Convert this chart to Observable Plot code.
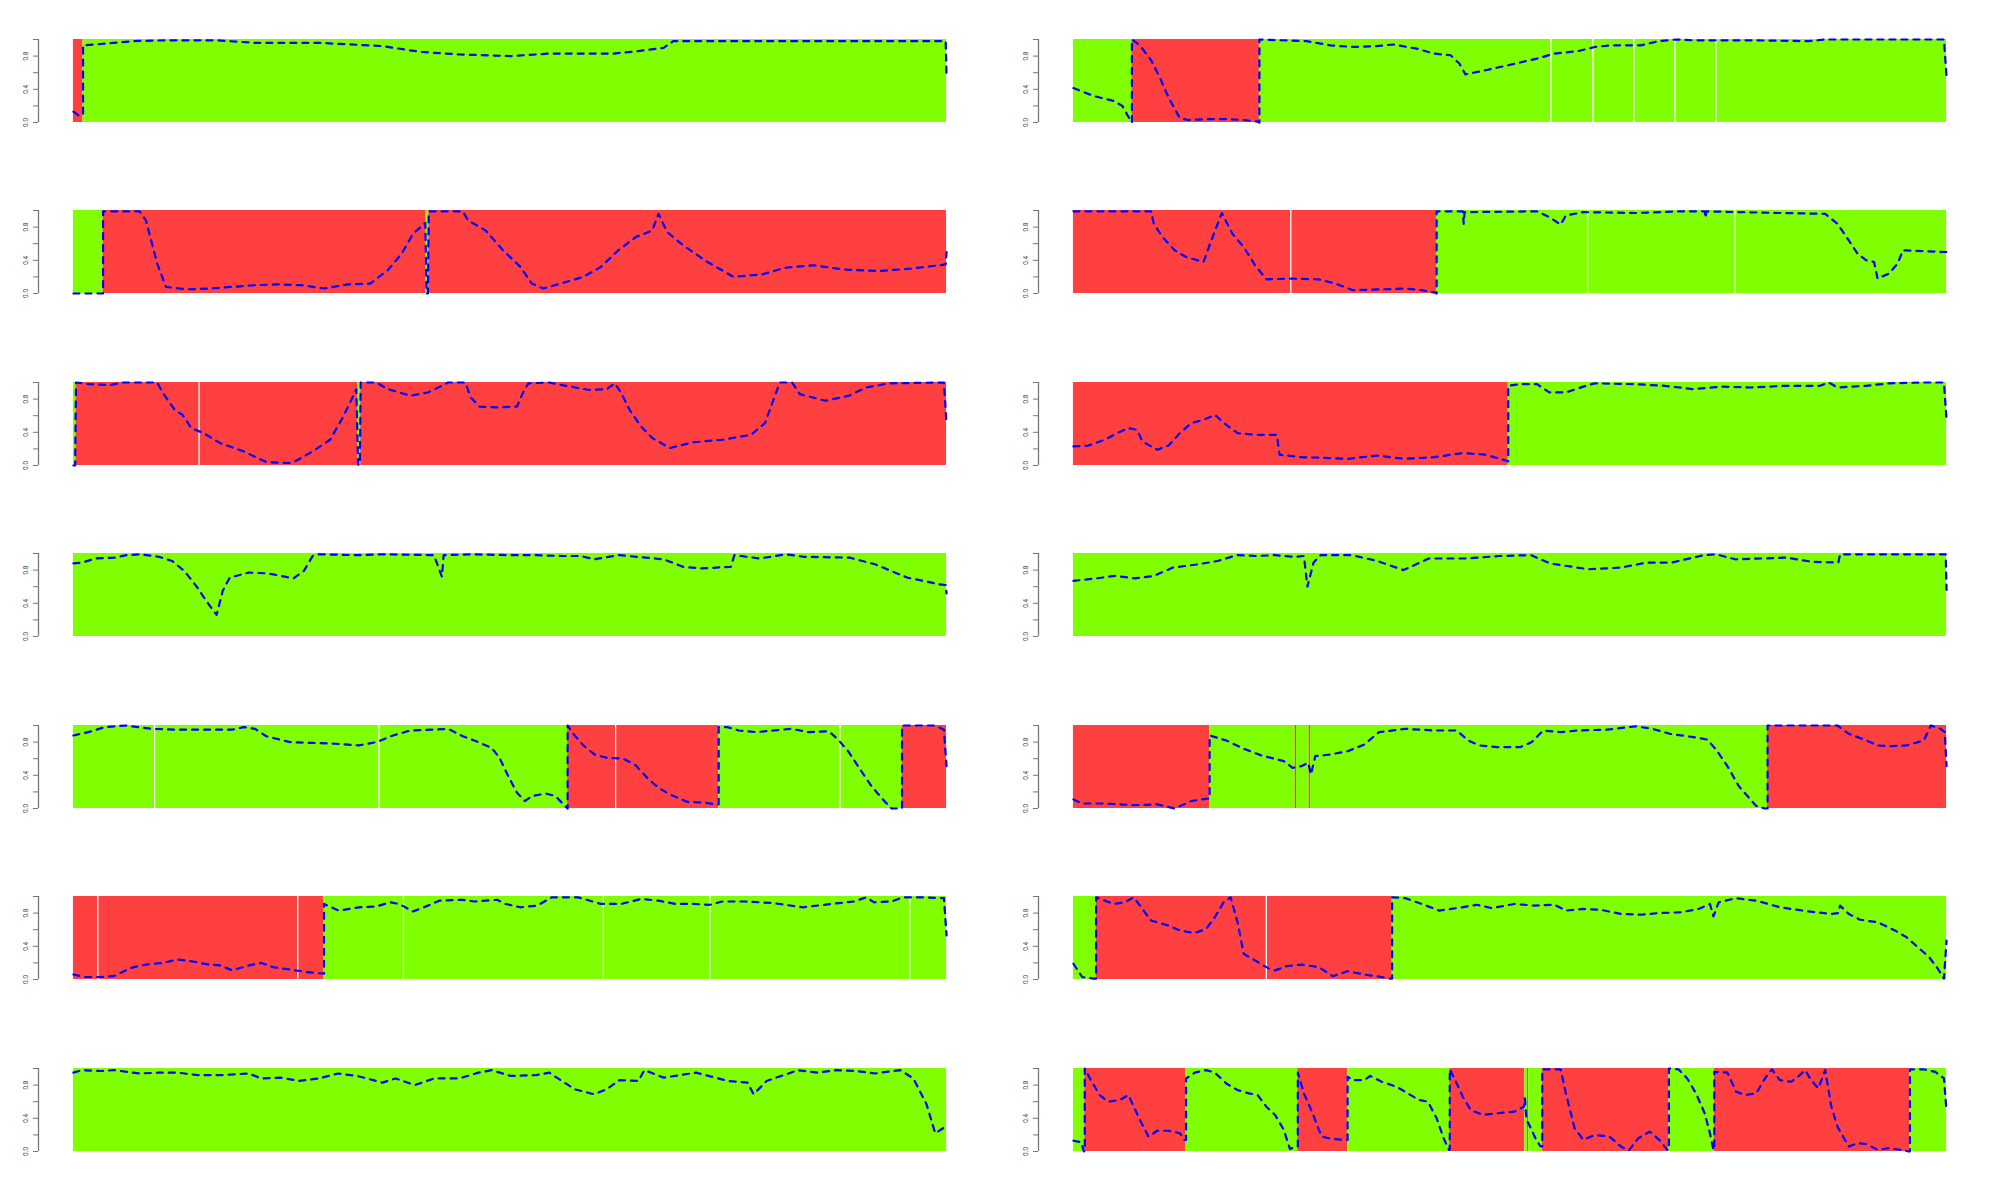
<!DOCTYPE html>
<html><head><meta charset="utf-8">
<script src="https://cdn.jsdelivr.net/npm/d3@7"></script>
<script src="https://cdn.jsdelivr.net/npm/@observablehq/plot@0.6"></script>
<style>
html,body{margin:0;padding:0;background:#fff;}
#chart{position:relative;width:2000px;height:1200px;overflow:hidden;background:#fff;}
</style></head><body><div id="chart"></div>
<script>
// y-axis ticks and labels
const yTicks = [0, 0.2, 0.4, 0.6, 0.8, 1.0];
const yLabels = [0, 0.4, 0.8];

// segments: [start, end, state]  (x in % of sequence length); R = red state, G = green state
const segs1 = [[0,1.1,"R"],[1.1,100,"G"]];
const line1 = [[0,0.13],[0.54,0.09],[1.1,0.09],[1.1,0.93],[2.6,0.94],[6.8,0.98],[10.6,0.99],[16.4,0.99],[20.8,0.96],[28.1,0.96],[35.4,0.92],[39.8,0.85],[44.2,0.82],[50.1,0.80],[54.5,0.83],[61.8,0.83],[64.7,0.86],[67.6,0.9],[68.7,0.98],[99.9,0.98],[100,0.55]];

const segs2 = [[0,6.7,"G"],[6.7,21.3,"R"],[21.3,54.7,"G"],[54.7,59.5,"G"],[59.5,64.2,"G"],[64.2,68.9,"G"],[68.9,73.6,"G"],[73.6,100,"G"]];
const line2 = [[0,0.415],[2.3,0.32],[4.6,0.26],[5.6,0.2],[6.4,0.05],[6.7,0.0],[6.7,1.0],[7.6,0.93],[8.9,0.75],[9.9,0.54],[10.9,0.3],[12.2,0.05],[13.2,0.03],[15.5,0.04],[17.5,0.04],[19.5,0.03],[21.1,0.01],[21.3,0.0],[21.3,1.0],[26.7,0.98],[29.4,0.93],[32.0,0.91],[34.7,0.92],[36.6,0.94],[39.3,0.89],[41.3,0.83],[43.2,0.81],[44.2,0.71],[44.9,0.58],[47.2,0.63],[49.8,0.69],[53.1,0.77],[55.1,0.83],[57.8,0.86],[59.7,0.91],[61.7,0.93],[65.0,0.93],[67.0,0.98],[69.0,1.0],[71.0,0.99],[77.6,0.99],[84.2,0.98],[86.1,1.0],[99.7,1.0],[100,0.55]];

const segs3 = [[0,3.4,"G"],[3.4,40.4,"R"],[40.4,40.7,"G"],[40.7,100,"R"]];
const line3 = [[0,0],[3.4,0],[3.4,0.99],[7.6,0.99],[8.3,0.88],[8.9,0.64],[9.6,0.36],[10.6,0.08],[12.9,0.05],[15.5,0.06],[18.2,0.08],[20.8,0.10],[23.4,0.11],[26.1,0.10],[28.7,0.06],[31.4,0.11],[34.0,0.12],[36.0,0.28],[37.6,0.48],[38.9,0.72],[40.3,0.85],[40.45,0.0],[40.6,0.0],[40.7,0.99],[44.6,0.99],[45.2,0.88],[47.2,0.76],[49.2,0.52],[51.2,0.32],[52.5,0.12],[53.8,0.06],[55.8,0.12],[58.4,0.20],[60.4,0.32],[62.4,0.52],[64.4,0.68],[66.3,0.76],[67.0,0.96],[68.0,0.74],[69.6,0.60],[72.3,0.40],[75.6,0.20],[78.9,0.23],[81.5,0.31],[84.8,0.34],[88.1,0.29],[92.1,0.27],[96.0,0.30],[99.9,0.35],[100,0.50]];

const segs4 = [[0,24.9,"R"],[24.9,41.6,"R"],[41.6,58.9,"G"],[58.9,75.8,"G"],[75.8,100,"G"]];
const line4 = [[0,0.99],[8.9,0.99],[9.2,0.84],[10.2,0.68],[11.6,0.52],[12.9,0.44],[14.9,0.38],[15.8,0.64],[17.0,0.97],[18.2,0.72],[19.5,0.56],[20.8,0.34],[22.1,0.17],[24.8,0.18],[28.1,0.17],[30.0,0.12],[32.0,0.04],[35.3,0.05],[38.0,0.06],[39.9,0.04],[41.4,0.01],[41.6,0.0],[41.6,0.99],[44.6,0.99],[44.7,0.84],[44.8,0.98],[53.1,0.99],[54.5,0.92],[55.8,0.83],[56.4,0.94],[58.4,0.98],[64.4,0.97],[69.6,0.99],[72.3,0.99],[72.4,0.91],[72.5,0.99],[76.2,0.98],[80.9,0.97],[86.1,0.96],[87.5,0.84],[88.8,0.64],[89.8,0.48],[90.8,0.40],[91.7,0.38],[92.1,0.18],[93.4,0.24],[94.4,0.36],[95.0,0.52],[97.4,0.51],[99.9,0.50],[100,0.50]];

const segs5 = [[0,0.3,"G"],[0.3,14.4,"R"],[14.4,32.6,"R"],[32.6,32.9,"G"],[32.9,100,"R"]];
const line5 = [[0,0],[0.2,0],[0.3,1.0],[1.7,0.98],[4.3,0.97],[5.6,1.0],[9.6,1.0],[10.2,0.88],[11.6,0.67],[12.5,0.61],[13.5,0.45],[14.9,0.39],[16.8,0.27],[19.5,0.17],[22.1,0.04],[24.8,0.03],[25.4,0.05],[27.4,0.17],[29.4,0.31],[30.7,0.55],[31.7,0.76],[32.4,0.92],[32.6,0.01],[32.8,0.01],[32.9,1.0],[34.7,1.0],[36.0,0.92],[38.6,0.84],[40.6,0.88],[42.2,0.96],[42.9,1.0],[44.9,1.0],[45.5,0.82],[46.5,0.71],[48.5,0.70],[50.8,0.71],[51.5,0.88],[52.1,0.99],[54.5,1.0],[56.4,0.96],[59.1,0.91],[61.1,0.92],[62.0,0.99],[62.7,0.88],[63.7,0.67],[65.0,0.47],[66.3,0.33],[68.3,0.21],[71.0,0.28],[74.3,0.31],[77.6,0.37],[79.2,0.51],[80.2,0.80],[80.9,1.0],[82.3,1.0],[83.2,0.86],[86.1,0.78],[88.8,0.84],[90.8,0.94],[93.4,0.99],[99.7,1.0],[100,0.5]];

const segs6 = [[0,49.8,"R"],[49.8,100,"G"]];
const line6 = [[0,0.23],[1.7,0.24],[3.6,0.31],[5.0,0.39],[6.3,0.45],[7.3,0.43],[7.9,0.29],[9.6,0.19],[10.9,0.24],[12.2,0.39],[13.5,0.51],[14.9,0.55],[16.2,0.61],[17.5,0.49],[18.8,0.39],[20.8,0.37],[23.3,0.37],[23.6,0.13],[26.1,0.10],[29.4,0.09],[31.4,0.08],[34.7,0.12],[38.0,0.08],[41.3,0.10],[44.6,0.15],[47.2,0.13],[49.5,0.06],[49.8,0.05],[49.8,0.96],[51.2,0.98],[53.1,0.98],[54.5,0.88],[56.4,0.88],[58.4,0.95],[59.7,0.99],[64.4,0.98],[67.7,0.96],[71.0,0.92],[74.3,0.95],[77.6,0.94],[81.5,0.96],[85.5,0.96],[86.5,1.0],[87.5,0.94],[90.8,0.96],[93.4,0.99],[97.4,1.0],[99.7,1.0],[100,0.55]];

const segs7 = [[0,100,"G"]];
const line7 = [[0,0.88],[1.0,0.89],[2.5,0.94],[4.7,0.95],[6.1,0.98],[7.6,0.99],[9.8,0.96],[11.3,0.91],[12.7,0.79],[14.2,0.59],[15.2,0.43],[16.4,0.26],[17.1,0.55],[17.9,0.71],[20.1,0.77],[22.3,0.76],[25.2,0.70],[26.4,0.79],[27.4,0.97],[28.1,0.99],[32.5,0.98],[35.4,0.99],[41.3,0.98],[42.2,0.72],[42.4,0.98],[45.7,0.99],[50.1,0.98],[53.0,0.98],[55.9,0.97],[58.1,0.97],[59.6,0.93],[62.5,0.98],[67.6,0.93],[69.8,0.84],[72.0,0.82],[75.3,0.84],[75.7,0.98],[78.6,0.94],[81.6,0.99],[83.7,0.96],[88.9,0.95],[91.8,0.87],[95.5,0.71],[99.1,0.63],[99.9,0.62],[100,0.52]];

const segs8 = [[0,100,"G"]];
const line8 = [[0,0.67],[2.6,0.70],[4.8,0.73],[7.0,0.70],[9.2,0.73],[11.4,0.83],[14.3,0.87],[16.5,0.91],[18.7,0.98],[20.9,0.97],[23.1,0.98],[25.3,0.96],[26.4,0.97],[26.8,0.60],[27.5,0.89],[28.3,0.98],[31.9,0.98],[34.8,0.91],[37.8,0.80],[40.7,0.94],[45.1,0.94],[48.8,0.97],[52.4,0.98],[54.6,0.88],[59.0,0.81],[62.7,0.83],[65.6,0.89],[68.5,0.89],[72.2,0.98],[73.6,0.99],[75.8,0.93],[78.8,0.94],[81.7,0.95],[84.6,0.90],[87.6,0.89],[87.8,0.99],[93.4,0.99],[99.3,0.99],[99.9,0.99],[100,0.56]];

const segs9 = [[0,9.3,"G"],[9.3,35.0,"G"],[35.0,56.6,"G"],[56.6,62.1,"R"],[62.1,73.9,"R"],[73.9,87.8,"G"],[87.8,94.9,"G"],[94.9,100,"R"]];
const line9 = [[0,0.88],[1.7,0.92],[3.6,0.98],[5.9,1.0],[8.9,0.96],[11.6,0.95],[14.9,0.95],[18.2,0.95],[19.5,0.98],[20.8,0.96],[22.1,0.87],[24.8,0.80],[27.4,0.79],[30.0,0.78],[32.7,0.76],[34.7,0.80],[36.6,0.88],[38.6,0.94],[41.3,0.95],[42.9,0.96],[44.6,0.87],[45.9,0.82],[47.9,0.73],[48.8,0.61],[49.8,0.39],[50.8,0.19],[51.7,0.09],[52.5,0.15],[54.1,0.18],[55.2,0.15],[56.3,0.03],[56.6,0.0],[56.6,1.0],[57.4,0.88],[58.4,0.76],[59.7,0.65],[61.1,0.61],[63.0,0.60],[64.4,0.52],[65.7,0.37],[67.0,0.25],[68.3,0.17],[70.3,0.08],[72.3,0.07],[73.6,0.05],[73.9,0.05],[73.9,0.98],[74.9,0.98],[76.2,0.94],[78.2,0.92],[80.2,0.94],[82.2,0.96],[84.2,0.92],[86.5,0.93],[87.5,0.84],[88.8,0.68],[90.1,0.47],[91.4,0.27],[92.7,0.11],[93.7,0.0],[94.9,0.0],[94.9,1.0],[98.7,1.0],[99.7,0.95],[100,0.51]];

const segs10 = [[0,15.6,"R"],[15.6,25.4,"G"],[25.4,25.55,"R"],[25.55,27.0,"G"],[27.0,27.15,"R"],[27.15,79.5,"G"],[79.5,100,"R"]];
const line10 = [[0,0.11],[1.0,0.06],[3.6,0.06],[6.9,0.04],[9.6,0.05],[11.6,0.0],[13.5,0.09],[15.4,0.12],[15.6,0.12],[15.6,0.88],[17.5,0.82],[19.5,0.72],[21.5,0.64],[24.1,0.57],[25.1,0.49],[26.1,0.51],[26.9,0.55],[27.2,0.41],[27.7,0.63],[29.4,0.65],[31.4,0.69],[33.3,0.77],[35.0,0.92],[38.0,0.96],[41.3,0.94],[43.9,0.94],[45.2,0.82],[46.5,0.76],[48.5,0.74],[51.2,0.74],[52.5,0.80],[53.8,0.94],[55.8,0.92],[57.8,0.94],[61.1,0.95],[64.4,0.99],[66.3,0.96],[68.3,0.90],[71.0,0.86],[72.6,0.83],[73.6,0.71],[74.9,0.51],[76.2,0.27],[77.2,0.15],[78.2,0.03],[79.2,0.0],[79.5,0.0],[79.5,1.0],[83.5,1.0],[87.5,1.0],[88.8,0.90],[90.8,0.82],[92.1,0.76],[93.4,0.75],[95.4,0.76],[97.4,0.82],[98.2,1.0],[99.3,0.96],[99.8,0.92],[100,0.51]];

const segs11 = [[0,2.8,"R"],[2.8,25.7,"R"],[25.7,28.7,"R"],[28.7,37.8,"G"],[37.8,60.7,"G"],[60.7,72.9,"G"],[72.9,95.8,"G"],[95.8,100,"G"]];
const line11 = [[0,0.06],[1.3,0.03],[3.0,0.03],[4.6,0.04],[5.6,0.09],[6.6,0.14],[8.3,0.18],[10.2,0.20],[11.9,0.24],[13.5,0.22],[15.5,0.18],[16.8,0.17],[18.2,0.11],[20.1,0.17],[21.5,0.20],[22.8,0.15],[24.8,0.12],[26.7,0.09],[28.6,0.07],[28.7,0.07],[28.7,0.91],[30.4,0.83],[32.7,0.87],[34.7,0.88],[36.3,0.93],[37.3,0.91],[38.9,0.82],[40.6,0.89],[41.9,0.95],[44.6,0.96],[45.9,0.94],[47.2,0.95],[48.5,0.96],[49.5,0.91],[51.2,0.87],[53.1,0.89],[54.8,0.99],[57.8,0.99],[60.4,0.91],[62.7,0.91],[65.0,0.97],[67.0,0.95],[69.0,0.91],[71.0,0.91],[72.9,0.90],[74.3,0.94],[76.9,0.94],[80.2,0.92],[83.5,0.87],[86.8,0.91],[89.4,0.94],[90.8,0.99],[91.7,0.93],[93.7,0.94],[95.0,0.99],[97.4,0.99],[99.7,0.98],[100,0.53]];

const segs12 = [[0,2.6,"G"],[2.6,22.1,"R"],[22.1,36.5,"R"],[36.5,100,"G"]];
const line12 = [[0,0.19],[1.0,0.03],[2.3,0.01],[2.6,0.01],[2.6,0.99],[3.6,0.95],[4.6,0.91],[5.9,0.93],[6.9,0.99],[7.9,0.85],[8.9,0.71],[10.9,0.65],[12.2,0.59],[13.9,0.56],[15.2,0.61],[16.2,0.75],[17.2,0.93],[18.0,0.99],[18.8,0.69],[19.5,0.31],[20.8,0.23],[22.4,0.13],[23.1,0.11],[24.4,0.16],[26.1,0.18],[28.1,0.15],[29.7,0.04],[31.4,0.10],[33.3,0.06],[35.3,0.03],[36.3,0.01],[36.5,0.01],[36.5,0.99],[38.0,0.98],[39.9,0.91],[41.9,0.83],[43.9,0.86],[46.2,0.90],[47.9,0.86],[50.5,0.91],[52.8,0.89],[55.1,0.90],[56.4,0.83],[58.4,0.85],[60.4,0.84],[62.7,0.79],[65.0,0.78],[67.0,0.80],[69.6,0.81],[71.6,0.85],[72.9,0.91],[73.3,0.76],[73.9,0.93],[75.9,0.98],[78.2,0.95],[80.9,0.87],[84.2,0.82],[86.8,0.79],[87.6,0.80],[87.8,0.89],[88.8,0.79],[90.1,0.72],[92.1,0.69],[94.1,0.59],[95.4,0.51],[96.7,0.39],[98.0,0.27],[99.0,0.13],[99.7,0.01],[100,0.47]];

const segs13 = [[0,100,"G"]];
const line13 = [[0,0.95],[1.0,0.98],[3.2,0.97],[4.7,0.98],[7.6,0.94],[9.8,0.95],[12.0,0.95],[14.2,0.92],[17.1,0.92],[20.1,0.94],[21.5,0.88],[23.7,0.89],[25.9,0.85],[28.1,0.88],[30.3,0.94],[32.5,0.91],[35.4,0.83],[36.9,0.88],[39.1,0.80],[41.3,0.88],[44.2,0.88],[46.4,0.95],[47.9,0.98],[50.1,0.91],[53.0,0.92],[54.5,0.95],[57.4,0.75],[59.6,0.69],[61.1,0.75],[62.5,0.86],[64.7,0.85],[65.4,0.98],[67.6,0.89],[71.3,0.95],[75.0,0.85],[77.2,0.83],[77.9,0.69],[79.4,0.85],[83.0,0.98],[85.2,0.95],[87.4,0.98],[89.6,0.97],[91.8,0.94],[94.7,0.98],[96.2,0.88],[97.7,0.57],[98.7,0.22],[99.6,0.28],[100,0.34]];

const segs14 = [[0,1.3,"G"],[1.3,12.9,"R"],[12.9,25.7,"G"],[25.7,31.4,"R"],[31.4,43.1,"G"],[43.1,51.7,"R"],[51.7,52.0,"G"],[52.0,52.15,"R"],[52.15,53.7,"G"],[53.7,68.2,"R"],[68.2,73.4,"G"],[73.4,95.8,"R"],[95.8,100,"G"]];
const line14 = [[0,0.13],[0.9,0.11],[1.2,0.0],[1.3,0.0],[1.3,1.0],[2.0,0.86],[3.0,0.68],[4.0,0.60],[5.3,0.62],[6.3,0.68],[6.9,0.54],[7.9,0.32],[8.6,0.18],[9.6,0.25],[10.9,0.25],[12.2,0.22],[12.7,0.14],[12.9,0.14],[12.9,0.88],[13.9,0.95],[15.2,0.98],[16.2,0.95],[17.5,0.82],[18.8,0.74],[20.1,0.70],[21.1,0.68],[22.1,0.54],[23.1,0.44],[24.1,0.26],[24.8,0.03],[25.5,0.06],[25.7,0.06],[25.7,0.95],[26.4,0.70],[27.4,0.46],[28.4,0.18],[29.7,0.15],[31.0,0.14],[31.4,0.14],[31.4,0.90],[32.0,0.86],[33.3,0.86],[34.0,0.91],[35.3,0.84],[37.0,0.78],[38.3,0.70],[39.6,0.62],[40.6,0.60],[41.6,0.40],[42.4,0.16],[43.0,0.02],[43.1,0.02],[43.1,0.99],[43.9,0.82],[44.6,0.66],[45.5,0.50],[46.9,0.44],[48.5,0.46],[50.5,0.48],[51.6,0.54],[51.7,0.64],[51.9,0.38],[52.3,0.30],[53.0,0.14],[53.5,0.06],[53.7,0.06],[53.7,0.99],[55.8,0.99],[56.4,0.70],[57.4,0.28],[58.4,0.14],[59.7,0.20],[61.4,0.18],[62.7,0.06],[63.6,0.01],[64.7,0.16],[66.0,0.24],[67.3,0.12],[68.0,0.02],[68.2,0.02],[68.2,1.0],[69.3,0.99],[70.3,0.88],[71.3,0.70],[72.3,0.46],[72.9,0.22],[73.3,0.02],[73.4,0.02],[73.4,0.96],[74.9,0.95],[75.9,0.72],[76.9,0.68],[78.2,0.70],[79.2,0.88],[80.0,0.99],[80.9,0.86],[82.2,0.84],[83.2,0.92],[83.8,0.98],[84.5,0.86],[85.3,0.76],[86.1,0.98],[86.8,0.54],[87.5,0.30],[88.8,0.06],[89.8,0.10],[90.8,0.09],[92.1,0.02],[93.4,0.04],[94.7,0.02],[95.7,0.0],[95.8,0.0],[95.8,0.99],[97.4,0.99],[98.7,0.96],[99.7,0.88],[100,0.48]];

const panels = [
  [segs1, line1], [segs2, line2], [segs3, line3], [segs4, line4],
  [segs5, line5], [segs6, line6], [segs7, line7], [segs8, line8],
  [segs9, line9], [segs10, line10], [segs11, line11], [segs12, line12],
  [segs13, line13], [segs14, line14]
];

const RED = "#FF4040", GREEN = "#7FFF00", BLUE = "#0000FF";
const container = document.getElementById("chart");

panels.forEach(([segs, line], i) => {
  const row = Math.floor(i / 2), col = i % 2;
  const breaks = [];
  for (let k = 1; k < segs.length; k++) if (segs[k][2] === segs[k - 1][2]) breaks.push(segs[k][0]);
  const svg = Plot.plot({
    width: 1000, height: 140,
    marginLeft: 38, marginRight: 19, marginTop: 39, marginBottom: 18,
    style: {fontFamily: "'Liberation Sans', Arial, Helvetica, sans-serif", background: "transparent", overflow: "visible"},
    x: {domain: [-4, 104], axis: null},
    y: {domain: [0, 1], axis: null},
    marks: [
      Plot.rect(segs, {x1: d => d[0], x2: d => d[1], y1: 0, y2: 1, fill: d => d[2] === "R" ? RED : GREEN}),
      Plot.ruleX(breaks, {x: d => d, y1: 0, y2: 1, stroke: "white", strokeWidth: 1.2}),
      Plot.line(line, {x: d => d[0], y: d => d[1], stroke: BLUE, strokeWidth: 2.2, strokeDasharray: "6,6", strokeLinecap: "round", strokeLinejoin: "round"}),
      Plot.ruleX([-4], {y1: 0, y2: 1, stroke: "#777", strokeWidth: 1.3}),
      Plot.axisY({ticks: yTicks, tickFormat: d => yLabels.includes(d) ? d.toFixed(1) : "", tickSize: 5, tickPadding: 5.5, tickRotate: -90, fontSize: 6.5, stroke: "#777", fill: "#333"})
    ]
  });
  svg.style.position = "absolute";
  svg.style.left = (col * 1000) + "px";
  svg.style.top = (row * 1200 / 7) + "px";
  container.appendChild(svg);
});
</script>
</body></html>
